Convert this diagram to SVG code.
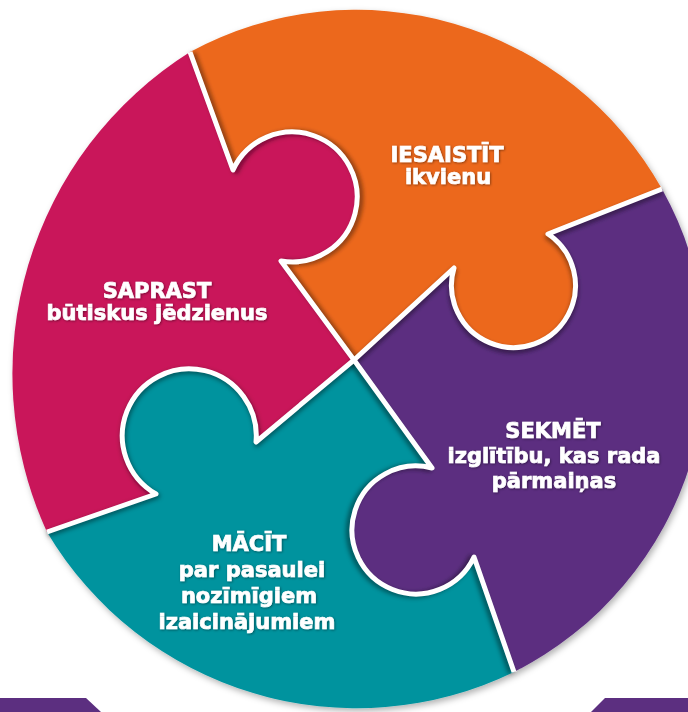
<svg xmlns="http://www.w3.org/2000/svg" width="688" height="712" viewBox="0 0 688 712">
  <defs>
    <filter id="drop" x="-10%" y="-10%" width="120%" height="120%">
      <feDropShadow dx="2" dy="3" stdDeviation="3" flood-color="#000" flood-opacity="0.3"/>
    </filter>
    <filter id="blur" x="-10%" y="-10%" width="120%" height="120%">
      <feGaussianBlur stdDeviation="2"/>
    </filter>
    <filter id="tshadow" x="-10%" y="-20%" width="120%" height="140%">
      <feDropShadow dx="0.8" dy="0.8" stdDeviation="0.8" flood-color="#000" flood-opacity="0.45"/>
    </filter>
    <style>
      .lbl { font-family: "DejaVu Sans", "Liberation Sans", sans-serif; font-weight: bold; font-size: 21px; fill: #ffffff; stroke: #ffffff; stroke-width: 0.7; text-anchor: middle; }
      .gap { fill: none; stroke: #ffffff; stroke-width: 5; stroke-linejoin: round; stroke-linecap: butt; }
      .shade { fill: none; stroke: #000000; stroke-opacity: 0.4; stroke-width: 6; stroke-linejoin: round; }
    </style>
  </defs>
  <rect width="688" height="712" fill="#ffffff"/>

  <g id="puzzle" filter="url(#drop)">
    <g id="piece-orange">
      <path fill="#EC681C" d="M 354,360 L 281,261 A 65 65 0 1 0 233,170 L 190,52 A 350 350 0 0 1 662,189 L 548,234 A 62 62 0 1 1 454,268 Z"/>
    </g>
    <g id="piece-purple">
      <path fill="#5C2F80" d="M 354,360 L 454,268 A 62 62 0 1 0 548,234 L 662,189 A 350 350 0 0 1 514,672 L 474,557 A 64 64 0 1 1 432,468 Z"/>
    </g>
    <g id="piece-teal">
      <path fill="#03939E" d="M 354,360 L 432,468 A 64 64 0 1 0 474,557 L 514,672 A 360 360 0 0 1 47,532 L 156,494 A 67 67 0 1 1 256,442 Z"/>
    </g>
    <g id="piece-magenta">
      <path fill="#C9155A" d="M 354,360 L 256,442 A 67 67 0 1 0 156,494 L 47,532 A 380 380 0 0 1 190,52 L 233,170 A 65 65 0 1 1 281,261 Z"/>
    </g>

    <g id="connectors">
      <g filter="url(#blur)">
        <path class="shade" transform="translate(3,1)" d="M 354,360 L 281,261 A 65 65 0 1 0 233,170 L 190,52"/>
        <path class="shade" transform="translate(0,3)" d="M 354,360 L 454,268 A 62 62 0 1 0 548,234 L 662,189"/>
        <path class="shade" transform="translate(-3,1)" d="M 354,360 L 432,468 A 64 64 0 1 0 474,557 L 514,672"/>
        <path class="shade" transform="translate(1,2)" stroke-opacity="0.2" d="M 354,360 L 256,442 A 67 67 0 1 0 156,494 L 47,532"/>
      </g>
      <path class="gap" d="M 354,360 L 281,261 A 65 65 0 1 0 233,170 L 190,52"/>
      <path class="gap" d="M 354,360 L 454,268 A 62 62 0 1 0 548,234 L 662,189"/>
      <path class="gap" d="M 354,360 L 432,468 A 64 64 0 1 0 474,557 L 514,672"/>
      <path class="gap" d="M 354,360 L 256,442 A 67 67 0 1 0 156,494 L 47,532"/>
    </g>
  </g>

  <g id="labels" filter="url(#tshadow)">
    <g id="label-orange">
      <text class="lbl" x="447" y="162">IESAISTĪT</text>
      <text class="lbl" x="448" y="184">ikvienu</text>
    </g>
    <g id="label-magenta">
      <text class="lbl" x="157" y="298">SAPRAST</text>
      <text class="lbl" x="157" y="320">būtiskus jēdzienus</text>
    </g>
    <g id="label-purple">
      <text class="lbl" x="553" y="438">SEKMĒT</text>
      <text class="lbl" x="554" y="463">izglītību, kas rada</text>
      <text class="lbl" x="554" y="488">pārmaiņas</text>
    </g>
    <g id="label-teal">
      <text class="lbl" x="249" y="551">MĀCĪT</text>
      <text class="lbl" x="252" y="577">par pasaulei</text>
      <text class="lbl" x="249" y="603">nozīmīgiem</text>
      <text class="lbl" x="247" y="629">izaicinājumiem</text>
    </g>
  </g>

  <g id="bottom-bars" fill="#5C2F80">
    <polygon points="0,698 86,698 101,712 0,712"/>
    <polygon points="605,698 688,698 688,712 591,712"/>
  </g>
</svg>
